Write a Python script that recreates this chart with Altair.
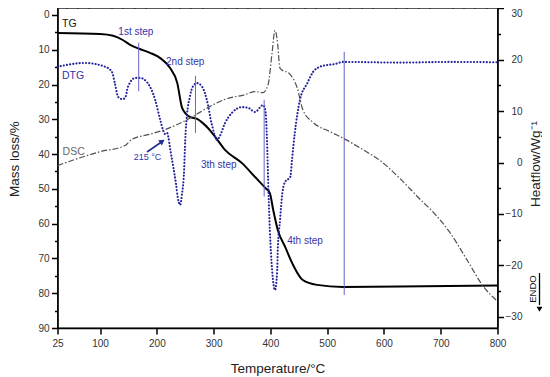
import altair as alt
import pandas as pd

# ---------------- data ----------------
tg_temp = [25, 100, 123, 140, 153, 170, 188, 206, 223, 236, 244, 250, 258, 271, 281, 290, 303,
           320, 350, 373, 391, 399, 405, 413, 426, 440, 457, 482, 528, 628, 800]
tg_mass = [5.2, 5.5, 6.0, 7.2, 8.6, 9.8, 10.9, 12.4, 15.2, 19.6, 26.5, 28.2, 29.3, 29.9, 31.1, 32.5,
           35.1, 38.8, 42.6, 46.6, 49.7, 51.2, 56.1, 61.8, 66.7, 71.9, 76.2, 77.6, 78.2, 78.1, 77.8]

dtg_temp = [25, 73, 109, 121, 126, 132, 139, 144, 149, 162, 170, 184, 197, 206, 211, 214, 218, 220,
            223, 229, 234, 237, 241, 244, 248, 250, 253, 258, 264, 271, 280, 288, 297, 306, 311, 320,
            332, 350, 361, 373, 387, 391, 394, 396, 399, 403, 408, 412, 413, 417, 421, 426, 435, 438,
            443, 452, 465, 475, 487, 500, 514, 528, 628, 716, 800]
dtg_val = [14.9, 13.8, 14.9, 16.4, 19.6, 23.6, 24.2, 23.9, 20.7, 18.1, 18.1, 19.6, 24.4, 30.2, 33.1,
           34.2, 33.9, 34.8, 38.0, 43.7, 48.9, 52.6, 54.6, 51.8, 44.6, 35.9, 28.8, 23.6, 20.4, 19.6,
           20.7, 24.4, 31.6, 35.9, 34.8, 31.1, 28.2, 26.5, 26.7, 27.9, 25.9, 27.3, 35.9, 47.4, 61.8,
           73.3, 79.1, 73.3, 67.6, 58.9, 51.2, 48.0, 46.6, 41.7, 33.9, 24.4, 19.6, 16.4, 14.9, 14.4,
           14.1, 13.5, 13.7, 13.5, 13.6]

dsc_temp = [25, 56, 100, 144, 156, 188, 214, 236, 258, 290, 320, 355, 373, 387, 396, 403, 408, 412,
            417, 435, 447, 457, 475, 505, 532, 563, 593, 628, 664, 687, 716, 746, 775, 800]
dsc_heat = [-0.6, 0.6, 2.1, 3.3, 4.5, 5.5, 6.4, 7.4, 8.6, 10.7, 12.3, 13.2, 13.8, 13.6, 15.2, 21.4,
            25.7, 23.9, 18.3, 17.1, 14.6, 10.3, 7.8, 6.0, 4.5, 2.5, 0.4, -3.1, -7.2, -9.7, -13.6,
            -18.9, -24.1, -27.0]

step_temp = [168, 268, 389, 530]
step_top = [8.0, 17.5, 24.4, 10.6]
step_bottom = [21.9, 33.9, 52.2, 80.5]

step_labels = ["1st step", "2nd step", "3th step", "4th step"]
step_label_temp = [163, 250, 309, 461]
step_label_mass = [4.9, 13.4, 43.1, 65.0]

curve_names = ["TG", "DTG", "DSC"]
curve_name_temp = [33, 33, 34]
curve_name_mass = [2.6, 17.5, 39.5]
curve_name_color = ["#111111", "#3434a8", "#666666"]

peak_label = ["215 °C"]
peak_label_temp = [183.5]
peak_label_mass = [40.8]
peak_arrow_from = [182.6, 39.4]
peak_arrow_to = [207.5, 36.6]
peak_arrow_head = [209.5, 36.35]

endo_text = ["ENDO"]
endo_temp = [862]
endo_mass = [78.8]
endo_arrow_temp = [874]
endo_arrow_mass = [74.2, 83.4]
endo_head_mass = [84.6]

x_major = [25, 100, 200, 300, 400, 500, 600, 700, 800]
x_minor = [v for v in range(40, 800, 20) if v % 100 != 0]
y_major = list(range(0, 91, 10))
y_minor = list(range(5, 90, 10))
h_major = [-30, -20, -10, 0, 10, 20, 30]
h_minor = [-25, -15, -5, 5, 15, 25]

# ---------------- scales ----------------
XS = alt.Scale(domain=[25, 800], nice=False, zero=False)
YM = alt.Scale(domain=[-2, 90], reverse=True, nice=False, zero=False)
YH = alt.Scale(domain=[-32.2, 30.06], nice=False, zero=False)

FONT = "Liberation Sans"
BLUE = "#3434a8"

tg_df = pd.DataFrame({"t": tg_temp, "m": tg_mass})
dtg_df = pd.DataFrame({"t": dtg_temp, "m": dtg_val})
dsc_df = pd.DataFrame({"t": dsc_temp, "h": dsc_heat})
step_df = pd.DataFrame({"t": step_temp, "m1": step_top, "m2": step_bottom})
steplab_df = pd.DataFrame({"label": step_labels, "t": step_label_temp, "m": step_label_mass})
names_df = pd.DataFrame({"label": curve_names, "t": curve_name_temp, "m": curve_name_mass,
                         "c": curve_name_color})
peak_df = pd.DataFrame({"label": peak_label, "t": peak_label_temp, "m": peak_label_mass})
arrow_df = pd.DataFrame({"t1": [peak_arrow_from[0]], "m1": [peak_arrow_from[1]],
                         "t2": [peak_arrow_to[0]], "m2": [peak_arrow_to[1]]})
head_df = pd.DataFrame({"t": [peak_arrow_head[0]], "m": [peak_arrow_head[1]]})
endo_df = pd.DataFrame({"label": endo_text, "t": endo_temp, "m": endo_mass})
endo_rule_df = pd.DataFrame({"t": endo_arrow_temp, "m1": [endo_arrow_mass[0]], "m2": [endo_arrow_mass[1]]})
endo_head_df = pd.DataFrame({"t": endo_arrow_temp, "m": endo_head_mass})

x_none = alt.X("t:Q", scale=XS, axis=None)
ym_none = alt.Y("m:Q", scale=YM, axis=None)

# ---------------- left (mass) group ----------------
x_axis_major = alt.Axis(values=x_major, tickSize=6, tickWidth=1.5, tickColor="#000",
                        domainColor="#000", domainWidth=1.5, labelFontSize=10, labelColor="#333",
                        labelPadding=4, labelFlush=False, labelOverlap=False, grid=False,
                        title="Temperature/°C", titleFontSize=13.5, titleFontWeight="normal",
                        titleColor="#222", titleX=220, titleY=44, titleAlign="center",
                        titleBaseline="alphabetic", format="d")
y_axis_major = alt.Axis(values=y_major, orient="left", tickSize=6, tickWidth=1.5, tickColor="#000",
                        domainColor="#000", domainWidth=1.5, labelFontSize=10, labelColor="#333",
                        labelPadding=2.5, labelFlush=False, labelOverlap=False, grid=False,
                        title="Mass loss/%", titleFontSize=13.5, titleFontWeight="normal",
                        titleColor="#222", titleAngle=270, titleX=-43, titleY=150.5,
                        titleAlign="center", titleBaseline="middle")

tg = alt.Chart(tg_df).mark_line(color="#000", strokeWidth=2, interpolate="monotone").encode(
    x=alt.X("t:Q", scale=XS, axis=x_axis_major),
    y=alt.Y("m:Q", scale=YM, axis=y_axis_major),
)

minor_left = alt.Chart(tg_df).mark_point(opacity=0).encode(
    x=alt.X("t:Q", scale=XS, axis=alt.Axis(values=x_minor, tickSize=3, tickWidth=1.5,
                                             tickColor="#000", labels=False, domain=False,
                                             grid=False, title=None)),
    y=alt.Y("m:Q", scale=YM, axis=alt.Axis(values=y_minor, orient="left", tickSize=3,
                                             tickWidth=1.5, tickColor="#000", labels=False,
                                             domain=False, grid=False, title=None)),
)

dtg = alt.Chart(dtg_df).mark_line(color="#24249a", strokeWidth=2.1, strokeCap="round",
                                  strokeDash=[0.1, 3.1], interpolate="monotone").encode(
    x=x_none, y=ym_none)

steps = alt.Chart(step_df).mark_rule(color="#6464c8", strokeWidth=1).encode(
    x=x_none, y=alt.Y("m1:Q", scale=YM, axis=None), y2="m2:Q")

step_text = alt.Chart(steplab_df).mark_text(font=FONT, fontSize=10, color=BLUE, align="center",
                                            baseline="middle").encode(
    x=x_none, y=ym_none, text="label:N")

name_text = alt.Chart(names_df).mark_text(font=FONT, fontSize=10.5, align="left",
                                          baseline="middle").encode(
    x=x_none, y=ym_none, text="label:N", color=alt.Color("c:N", scale=None))

peak_text = alt.Chart(peak_df).mark_text(font=FONT, fontSize=9, color=BLUE, align="center",
                                         baseline="middle").encode(
    x=x_none, y=ym_none, text="label:N")

peak_arrow = alt.Chart(arrow_df).mark_rule(color="#1f2f95", strokeWidth=1.6).encode(
    x=alt.X("t1:Q", scale=XS, axis=None), x2="t2:Q",
    y=alt.Y("m1:Q", scale=YM, axis=None), y2="m2:Q")

peak_head = alt.Chart(head_df).mark_point(shape="triangle-up", filled=True, size=40, angle=55,
                                          color="#1f2f95", opacity=1).encode(x=x_none, y=ym_none)

endo = alt.Chart(endo_df).mark_text(font=FONT, fontSize=9.5, color="#111", angle=270,
                                    align="center", baseline="middle").encode(
    x=x_none, y=ym_none, text="label:N")

endo_rule = alt.Chart(endo_rule_df).mark_rule(color="#000", strokeWidth=1.3).encode(
    x=x_none, y=alt.Y("m1:Q", scale=YM, axis=None), y2="m2:Q")

endo_head = alt.Chart(endo_head_df).mark_point(shape="triangle-down", filled=True, size=35,
                                               color="#000", opacity=1).encode(x=x_none, y=ym_none)

left = alt.layer(tg, minor_left, dtg, steps, step_text, name_text, peak_text, peak_arrow,
                 peak_head, endo, endo_rule, endo_head).resolve_axis(x="independent", y="independent")

# ---------------- right (heat flow) group ----------------
h_axis_major = alt.Axis(values=h_major, orient="right", tickSize=6, tickWidth=1.5, tickColor="#000",
                        domainColor="#000", domainWidth=1.5, labelFontSize=10, labelColor="#333",
                        labelAlign="right", labelPadding=18.5, labelFlush=2, labelOverlap=False,
                        grid=False, title="Heatflow/Wg⁻¹", titleFontSize=13.5,
                        titleFontWeight="normal", titleColor="#222", titleAngle=270, titleX=37.5,
                        titleY=155.5, titleAlign="center", titleBaseline="middle")

dsc = alt.Chart(dsc_df).mark_line(color="#505050", strokeWidth=1.2, strokeDash=[6, 2, 1.5, 2],
                                  interpolate="monotone").encode(
    x=x_none, y=alt.Y("h:Q", scale=YH, axis=h_axis_major))

minor_right = alt.Chart(dsc_df).mark_point(opacity=0).encode(
    x=x_none,
    y=alt.Y("h:Q", scale=YH, axis=alt.Axis(values=h_minor, orient="right", tickSize=3,
                                             tickWidth=1.5, tickColor="#000", labels=False,
                                             domain=False, grid=False, title=None)),
)

right = alt.layer(dsc, minor_right).resolve_axis(y="independent")

chart = alt.layer(left, right).resolve_scale(y="independent").properties(
    width=440, height=320,
    padding={"left": 49.5, "top": 0, "right": 44.5, "bottom": 50},
    autosize=alt.AutoSizeParams(type="none"),
).configure(font=FONT).configure_view(stroke="#222", strokeWidth=1.3)

chart.save("out.html", embed_options={"renderer": "svg", "actions": False})
